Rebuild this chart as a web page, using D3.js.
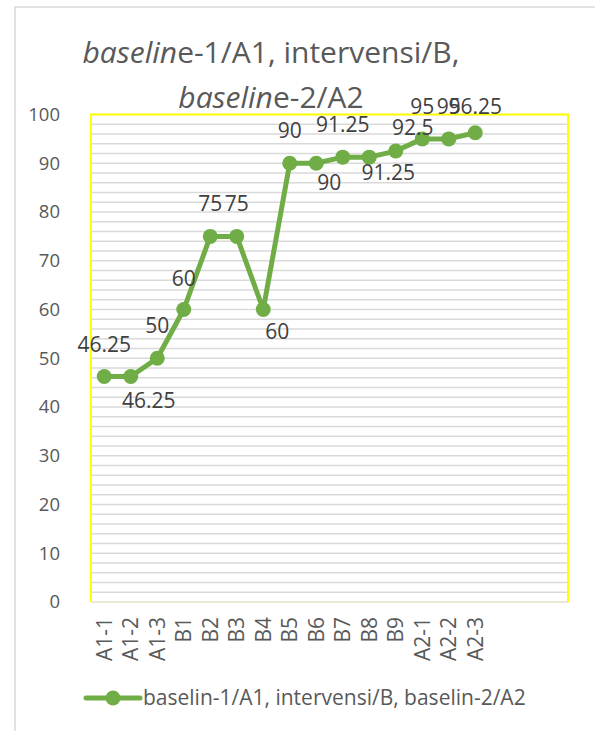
<!DOCTYPE html>
<html>
<head>
<meta charset="utf-8">
<script src="https://cdn.jsdelivr.net/npm/d3@7"></script>
<style>
  body { margin: 0; background: #fff; }
  svg { font-family: "Open Sans", Calibri, sans-serif; }
</style>
</head>
<body>
<svg id="chart" width="595" height="731"></svg>
<script>
// sessions and scores
var categories = ["A1-1", "A1-2", "A1-3", "B1", "B2", "B3", "B4", "B5", "B6", "B7", "B8", "B9", "A2-1", "A2-2", "A2-3"];
var scores = [46.25, 46.25, 50, 60, 75, 75, 60, 90, 90, 91.25, 91.25, 92.5, 95, 95, 96.25];
var yTicks = [0, 10, 20, 30, 40, 50, 60, 70, 80, 90, 100];
var seriesName = "baselin-1/A1, intervensi/B, baselin-2/A2";
// empty slots Excel left on the right of the axis
var blankSlots = ["_1", "_2", "_3"];

// label nudges [dx, dy] relative to the point (dy is baseline offset)
var labelNudge = [[0,-25],[18,31],[0,-25],[0,-24],[0,-25],[0,-25],[14,29],[0,-25],[13,27],[0,-25],[19,23],[17,-16],[0,-25],[0,-25],[0,-19]];

var green = "#70ad47";
var svg = d3.select("#chart");
var margin = {left: 91, top: 114.5, right: 568, bottom: 602};

// outer chart frame
svg.append("rect")
    .attr("x", 15).attr("y", 7)
    .attr("width", 600).attr("height", 740)
    .attr("fill", "none").attr("stroke", "#d9d9d9").attr("stroke-width", 1.5);

var x = d3.scaleBand()
    .domain(categories.concat(blankSlots))
    .range([margin.left, margin.right])
    .padding(0);
var y = d3.scaleLinear().domain([0, 100]).range([margin.bottom, margin.top]);
var cx = function(d) { return x(d) + x.bandwidth() / 2; };

// gridlines every 2
svg.append("g").selectAll("line")
    .data(d3.range(2, 101, 2))
    .join("line")
    .attr("x1", margin.left).attr("x2", margin.right)
    .attr("y1", function(d) { return y(d); })
    .attr("y2", function(d) { return y(d); })
    .attr("stroke", "#d9d9d9").attr("stroke-width", 1.3);

// yellow plot border
svg.append("path")
    .attr("d", "M" + margin.left + "," + margin.bottom + "V" + margin.top + "H" + margin.right + "V" + margin.bottom)
    .attr("fill", "none").attr("stroke", "#ffff00").attr("stroke-width", 2);
svg.append("line")
    .attr("x1", margin.left).attr("x2", margin.right)
    .attr("y1", margin.bottom).attr("y2", margin.bottom)
    .attr("stroke", "#e2e2c8").attr("stroke-width", 1.5);

// y axis
var yAxis = svg.append("g")
    .attr("transform", "translate(" + margin.left + ",0)")
    .call(d3.axisLeft(y).tickValues(yTicks).tickSize(0).tickPadding(31));
yAxis.select(".domain").remove();
yAxis.selectAll("text")
    .attr("fill", "#595959")
    .style("font-size", "18.5px")
    .style("font-family", "'Open Sans', sans-serif");

// x labels, rotated
svg.append("g").selectAll("text")
    .data(categories)
    .join("text")
    .attr("transform", function(d) { return "translate(" + cx(d) + ",617) rotate(-90)"; })
    .attr("text-anchor", "end")
    .attr("dy", "0.35em")
    .attr("fill", "#595959")
    .style("font-size", "21px")
    .text(function(d) { return d; });

// line + markers
var line = d3.line()
    .x(function(d, i) { return cx(categories[i]); })
    .y(function(d) { return y(d); });
svg.append("path")
    .datum(scores)
    .attr("d", line)
    .attr("fill", "none")
    .attr("stroke", green)
    .attr("stroke-width", 5)
    .attr("stroke-linejoin", "round");
svg.append("g").selectAll("circle")
    .data(scores)
    .join("circle")
    .attr("cx", function(d, i) { return cx(categories[i]); })
    .attr("cy", function(d) { return y(d); })
    .attr("r", 7.5)
    .attr("fill", green);

// data labels
svg.append("g").selectAll("text")
    .data(scores)
    .join("text")
    .attr("x", function(d, i) { return cx(categories[i]) + labelNudge[i][0]; })
    .attr("y", function(d, i) { return y(d) + labelNudge[i][1]; })
    .attr("text-anchor", "middle")
    .attr("fill", "#404040")
    .style("font-size", "21px")
    .text(function(d) { return d; });

// title
var title = svg.append("text")
    .attr("text-anchor", "middle")
    .attr("fill", "#595959")
    .style("font-size", "30px");
var t1 = title.append("tspan").attr("x", 271).attr("y", 63);
t1.append("tspan").style("font-style", "italic").text("baselin");
t1.append("tspan").text("e-1/A1, intervensi/B,");
var t2 = title.append("tspan").attr("x", 271).attr("y", 108);
t2.append("tspan").style("font-style", "italic").text("baselin");
t2.append("tspan").text("e-2/A2");

// legend
svg.append("line")
    .attr("x1", 86).attr("x2", 140).attr("y1", 698).attr("y2", 698)
    .attr("stroke", green).attr("stroke-width", 5).attr("stroke-linecap", "round");
svg.append("circle").attr("cx", 113).attr("cy", 698).attr("r", 7.5).attr("fill", green);
svg.append("text")
    .attr("x", 143).attr("y", 698).attr("dy", "0.35em")
    .attr("fill", "#595959")
    .style("font-size", "21px")
    .text(seriesName);
</script>
</body>
</html>
